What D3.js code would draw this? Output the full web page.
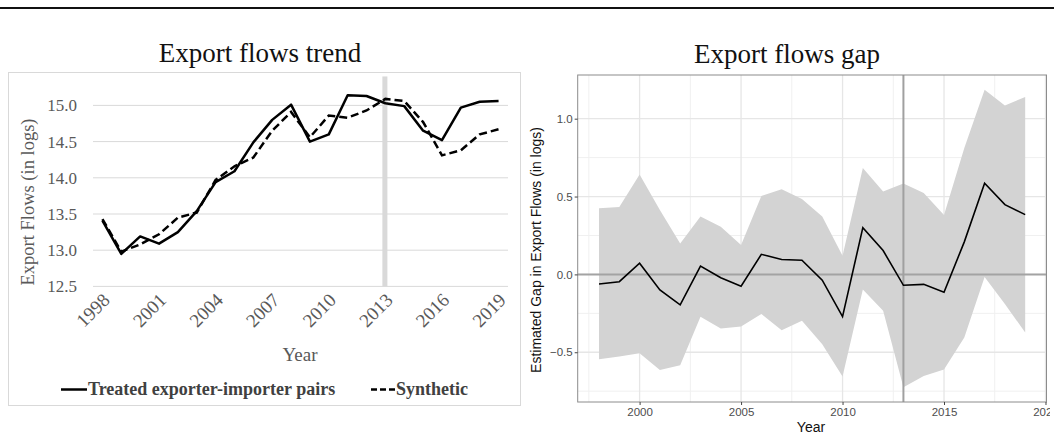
<!DOCTYPE html>
<html lang="en">
<head>
    <meta charset="UTF-8">
    <title>Export flows trend and gap</title>
    <script src="https://d3js.org/d3.v7.min.js"></script>
    <style>
        body { margin: 0; background: #fff; }
        svg { display: block; }
        .serif { font-family: 'Liberation Serif', 'Times New Roman', serif; }
        .sans { font-family: 'Liberation Sans', Arial, sans-serif; }
    </style>
</head>
<body>
    <div id="chart"></div>

    <script>
        // Data
        const years = [1998, 1999, 2000, 2001, 2002, 2003, 2004, 2005, 2006, 2007, 2008,
                       2009, 2010, 2011, 2012, 2013, 2014, 2015, 2016, 2017, 2018, 2019];
        const treated = [13.41, 12.95, 13.19, 13.09, 13.25, 13.54, 13.94, 14.09, 14.49, 14.80, 15.01,
                         14.50, 14.60, 15.14, 15.13, 15.03, 14.99, 14.65, 14.52, 14.97, 15.05, 15.06];
        const synthetic = [13.43, 12.98, 13.08, 13.22, 13.45, 13.52, 13.97, 14.16, 14.28, 14.65, 14.91,
                           14.56, 14.86, 14.83, 14.93, 15.09, 15.06, 14.77, 14.31, 14.38, 14.60, 14.67];
        const trendTicks = [12.5, 13.0, 13.5, 14.0, 14.5, 15.0];
        const trendYearTicks = [1998, 2001, 2004, 2007, 2010, 2013, 2016, 2019];
        const treatmentYear = 2013;
        const treatmentBarTop = 15.4;

        const gapMean = [-0.062, -0.047, 0.072, -0.100, -0.196, 0.053, -0.022, -0.076, 0.129, 0.096, 0.091,
                         -0.037, -0.271, 0.300, 0.153, -0.070, -0.064, -0.115, 0.209, 0.586, 0.448, 0.384];
        const gapUpper = [0.425, 0.433, 0.642, 0.414, 0.198, 0.371, 0.306, 0.188, 0.504, 0.547, 0.484,
                          0.371, 0.120, 0.684, 0.532, 0.583, 0.523, 0.381, 0.812, 1.185, 1.085, 1.140];
        const gapLower = [-0.545, -0.528, -0.506, -0.614, -0.584, -0.272, -0.347, -0.334, -0.254, -0.358, -0.297,
                          -0.448, -0.655, -0.097, -0.233, -0.724, -0.653, -0.610, -0.405, -0.017, -0.190, -0.373];
        const gapTicks = [-0.5, 0.0, 0.5, 1.0];
        const gapMinorTicks = [-0.75, -0.25, 0.25, 0.75];
        const gapYearTicks = [2000, 2005, 2010, 2015, 2020];
        const gapMinorYears = [1997.5, 2002.5, 2007.5, 2012.5, 2017.5];

        const width = 1054, height = 436;

        const svg = d3.select('#chart').append('svg')
            .attr('width', width)
            .attr('height', height);

        // rule across the top of the figure
        svg.append('rect')
            .attr('x', 0).attr('y', 7)
            .attr('width', width).attr('height', 2)
            .attr('fill', '#111');

        // ---------- left panel: Export flows trend ----------
        const left = svg.append('g');

        left.append('rect')
            .attr('x', 8.5).attr('y', 72.5)
            .attr('width', 512).attr('height', 333)
            .attr('fill', 'none')
            .attr('stroke', '#d9d9d9');

        left.append('text')
            .attr('class', 'serif')
            .attr('x', 260).attr('y', 62)
            .attr('text-anchor', 'middle')
            .attr('font-size', 27)
            .attr('fill', '#111')
            .text('Export flows trend');

        const xL = d3.scalePoint()
            .domain(years)
            .range([93, 508])
            .padding(0.5);
        const yL = d3.scaleLinear()
            .domain([12.5, 15.0])
            .range([286.4, 105.4]);

        // gridlines
        left.append('g')
            .selectAll('line')
            .data(trendTicks)
            .join('line')
            .attr('x1', 93).attr('x2', 508)
            .attr('y1', d => yL(d)).attr('y2', d => yL(d))
            .attr('stroke', '#d9d9d9')
            .attr('stroke-width', 1);

        // treatment marker bar
        left.append('rect')
            .attr('x', xL(treatmentYear) - 3)
            .attr('width', 5)
            .attr('y', yL(treatmentBarTop))
            .attr('height', yL(12.5) - yL(treatmentBarTop))
            .attr('fill', '#d9d9d9');

        // y axis
        const yAxisL = left.append('g')
            .attr('transform', 'translate(86,0)')
            .call(d3.axisLeft(yL).tickValues(trendTicks).tickSize(0).tickPadding(9).tickFormat(d3.format('.1f')));
        yAxisL.select('.domain').remove();
        yAxisL.selectAll('text')
            .attr('class', 'serif')
            .attr('font-size', 17)
            .attr('fill', '#595959');

        // x axis, rotated labels
        const xAxisL = left.append('g')
            .attr('transform', `translate(0,${yL(12.5)})`)
            .call(d3.axisBottom(xL).tickValues(trendYearTicks).tickSize(0));
        xAxisL.select('.domain').remove();
        xAxisL.selectAll('text')
            .attr('class', 'serif')
            .attr('font-size', 19)
            .attr('fill', '#595959')
            .attr('text-anchor', 'end')
            .attr('dy', null)
            .attr('y', 0)
            .attr('transform', 'translate(8,15) rotate(-45)');

        left.append('text')
            .attr('class', 'serif')
            .attr('transform', 'translate(34,202) rotate(-90)')
            .attr('text-anchor', 'middle')
            .attr('font-size', 18.5)
            .attr('fill', '#595959')
            .text('Export Flows (in logs)');

        left.append('text')
            .attr('class', 'serif')
            .attr('x', 300).attr('y', 361)
            .attr('text-anchor', 'middle')
            .attr('font-size', 19)
            .attr('fill', '#595959')
            .text('Year');

        // series
        const lineL = d3.line()
            .x((d, i) => xL(years[i]))
            .y(d => yL(d));

        left.append('path')
            .datum(treated)
            .attr('d', lineL)
            .attr('fill', 'none')
            .attr('stroke', '#000')
            .attr('stroke-width', 2.5)
            .attr('stroke-linejoin', 'round');

        left.append('path')
            .datum(synthetic)
            .attr('d', lineL)
            .attr('fill', 'none')
            .attr('stroke', '#000')
            .attr('stroke-width', 2.5)
            .attr('stroke-dasharray', '8,4');

        // legend
        const legend = left.append('g').attr('class', 'serif');
        legend.append('line')
            .attr('x1', 61).attr('x2', 87)
            .attr('y1', 389.5).attr('y2', 389.5)
            .attr('stroke', '#000').attr('stroke-width', 2.5);
        legend.append('text')
            .attr('x', 88).attr('y', 395)
            .attr('font-size', 18).attr('font-weight', 'bold')
            .attr('fill', '#404040')
            .text('Treated exporter-importer pairs');
        legend.append('line')
            .attr('x1', 371).attr('x2', 396)
            .attr('y1', 389.5).attr('y2', 389.5)
            .attr('stroke', '#000').attr('stroke-width', 2.5)
            .attr('stroke-dasharray', '6,3');
        legend.append('text')
            .attr('x', 396).attr('y', 395)
            .attr('font-size', 18).attr('font-weight', 'bold')
            .attr('fill', '#404040')
            .text('Synthetic');

        // ---------- right panel: Export flows gap ----------
        // the source figure is cropped on the right, through the last year label
        svg.append('clipPath').attr('id', 'figclip')
            .append('rect').attr('x', 522).attr('y', 0).attr('width', 528).attr('height', height);
        const right = svg.append('g').attr('clip-path', 'url(#figclip)');

        const px0 = 577.7, px1 = 1046.5, py0 = 75, py1 = 402;
        const xR = d3.scaleLinear().domain([1996.95, 2020.05]).range([px0, px1]);
        const yR = d3.scaleLinear().domain([-0.8195, 1.2805]).range([py1, py0]);

        right.append('text')
            .attr('class', 'serif')
            .attr('x', 787).attr('y', 63)
            .attr('text-anchor', 'middle')
            .attr('font-size', 27)
            .attr('fill', '#111')
            .text('Export flows gap');

        svg.append('clipPath').attr('id', 'panelclip')
            .append('rect').attr('x', px0).attr('y', py0).attr('width', px1 - px0).attr('height', py1 - py0);
        const panel = right.append('g').attr('clip-path', 'url(#panelclip)');

        // minor then major gridlines
        panel.append('g').selectAll('line').data(gapMinorTicks).join('line')
            .attr('x1', px0).attr('x2', px1)
            .attr('y1', d => yR(d)).attr('y2', d => yR(d))
            .attr('stroke', '#f0f0f0').attr('stroke-width', 1);
        panel.append('g').selectAll('line').data(gapMinorYears).join('line')
            .attr('y1', py0).attr('y2', py1)
            .attr('x1', d => xR(d)).attr('x2', d => xR(d))
            .attr('stroke', '#f0f0f0').attr('stroke-width', 1);
        panel.append('g').selectAll('line').data(gapTicks).join('line')
            .attr('x1', px0).attr('x2', px1)
            .attr('y1', d => yR(d)).attr('y2', d => yR(d))
            .attr('stroke', '#e6e6e6').attr('stroke-width', 1.3);
        panel.append('g').selectAll('line').data(gapYearTicks).join('line')
            .attr('y1', py0).attr('y2', py1)
            .attr('x1', d => xR(d)).attr('x2', d => xR(d))
            .attr('stroke', '#e6e6e6').attr('stroke-width', 1.3);

        // confidence band
        const area = d3.area()
            .x((d, i) => xR(years[i]))
            .y0((d, i) => yR(gapLower[i]))
            .y1((d, i) => yR(gapUpper[i]));
        panel.append('path')
            .datum(gapMean)
            .attr('d', area)
            .attr('fill', '#d3d3d3');

        // reference lines
        panel.append('line')
            .attr('x1', px0).attr('x2', px1)
            .attr('y1', yR(0)).attr('y2', yR(0))
            .attr('stroke', '#a3a3a3').attr('stroke-width', 2);
        panel.append('line')
            .attr('x1', xR(treatmentYear)).attr('x2', xR(treatmentYear))
            .attr('y1', py0).attr('y2', py1)
            .attr('stroke', '#a0a0a0').attr('stroke-width', 2);

        const lineR = d3.line()
            .x((d, i) => xR(years[i]))
            .y(d => yR(d));
        panel.append('path')
            .datum(gapMean)
            .attr('d', lineR)
            .attr('fill', 'none')
            .attr('stroke', '#000')
            .attr('stroke-width', 1.6);

        right.append('rect')
            .attr('x', px0).attr('y', py0)
            .attr('width', px1 - px0).attr('height', py1 - py0)
            .attr('fill', 'none')
            .attr('stroke', '#8c8c8c').attr('stroke-width', 1);

        // axes
        const yAxisR = right.append('g')
            .attr('transform', `translate(${px0},0)`)
            .call(d3.axisLeft(yR).tickValues(gapTicks).tickSize(3).tickPadding(2).tickFormat(d3.format('.1f')));
        yAxisR.select('.domain').remove();
        yAxisR.selectAll('line').attr('stroke', '#444');
        yAxisR.selectAll('text')
            .attr('class', 'sans')
            .attr('font-size', 11.5)
            .attr('fill', '#4d4d4d');

        const xAxisR = right.append('g')
            .attr('transform', `translate(0,${py1})`)
            .call(d3.axisBottom(xR).tickValues(gapYearTicks).tickSize(3).tickPadding(3).tickFormat(d3.format('d')));
        xAxisR.select('.domain').remove();
        xAxisR.selectAll('line').attr('stroke', '#444');
        xAxisR.selectAll('text')
            .attr('class', 'sans')
            .attr('font-size', 11.5)
            .attr('fill', '#4d4d4d');

        right.append('text')
            .attr('class', 'sans')
            .attr('transform', 'translate(541,250) rotate(-90)')
            .attr('text-anchor', 'middle')
            .attr('font-size', 14)
            .attr('fill', '#111')
            .text('Estimated Gap in Export Flows (in logs)');

        right.append('text')
            .attr('class', 'sans')
            .attr('x', 811).attr('y', 432)
            .attr('text-anchor', 'middle')
            .attr('font-size', 14)
            .attr('fill', '#111')
            .text('Year');
    </script>
</body>
</html>
